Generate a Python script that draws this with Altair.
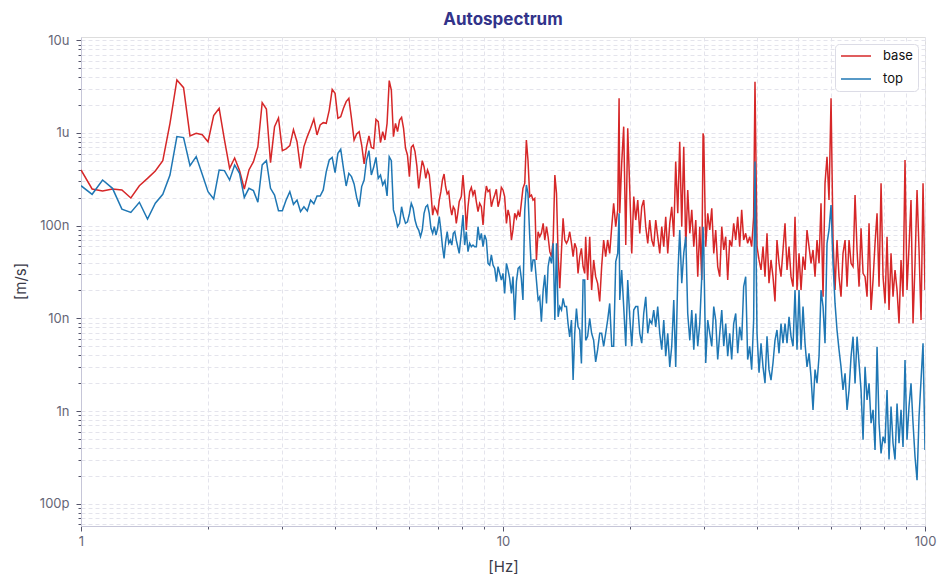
import altair as alt
import pandas as pd

# Autospectrum. Amplitudes in nm/s, frequencies in Hz.

# 1 - 3.6 Hz
freq_a = [1.0, 1.0625, 1.125, 1.1875, 1.25, 1.3125, 1.375, 1.4375, 1.5, 1.5625,
          1.625, 1.6875, 1.75, 1.8125, 1.875, 1.9375, 2.0, 2.0625, 2.125, 2.1875,
          2.25, 2.3125, 2.375, 2.4375, 2.5, 2.5625, 2.625, 2.6875, 2.75, 2.8125,
          2.875, 2.9375, 3.0, 3.0625, 3.125, 3.1875, 3.25, 3.3125, 3.375, 3.4375,
          3.5, 3.5625, 3.625]
base_a = [399, 249, 237, 249, 243, 199, 270, 324, 389, 503,
          1272, 3732, 3083, 929, 991, 959, 805, 1540, 1847, 841,
          416, 537, 393, 249, 399, 491, 713, 2124, 1815, 479,
          1171, 1452, 646, 673, 731, 1087, 805, 416, 713, 914,
          1123, 1416, 952]
top_a = [270, 218, 311, 253, 151, 139, 179, 118, 175, 218,
         352, 914, 891, 445, 556, 358, 233, 194, 399, 393,
         311, 452, 367, 202, 253, 239, 179, 452, 504, 253,
         214, 145, 145, 189, 233, 170, 189, 142, 160, 144,
         189, 172, 209]

# 3.7 - 7.9 Hz
freq_b = [3.6875, 3.75, 3.8125, 3.875, 3.9375, 4.0, 4.0625, 4.125, 4.1875, 4.25,
          4.3125, 4.375, 4.4375, 4.5, 4.5625, 4.625, 4.6875, 4.75, 4.8125, 4.875,
          4.9375, 5.0, 5.0625, 5.125, 5.1875, 5.25, 5.3125, 5.375, 5.4375, 5.5,
          5.5625, 5.625, 5.6875, 5.75, 5.8125, 5.875, 5.9375, 6.0, 6.0625, 6.125,
          6.1875, 6.25, 6.3125, 6.375, 6.4375, 6.5, 6.5625, 6.625, 6.6875, 6.75,
          6.8125, 6.875, 6.9375, 7.0, 7.0625, 7.125, 7.1875, 7.25, 7.3125, 7.375,
          7.4375, 7.5, 7.5625, 7.625, 7.6875, 7.75, 7.8125, 7.875]
base_b = [1219, 1292, 1271, 1768, 2954, 2677, 1439, 1500, 1845, 2178,
          2364, 1439, 840, 976, 1033, 742, 463, 712, 928, 700,
          683, 1404, 1326, 787, 1033, 840, 1271, 3668, 2909, 912,
          1271, 1033, 1380, 1476, 1123, 683, 579, 338, 700, 742,
          629, 441, 253, 367, 503, 433, 324, 399, 352, 227,
          130, 160, 148, 134, 189, 233, 311, 361, 263, 220,
          233, 160, 130, 160, 150, 106, 136, 182]
top_b = [209, 243, 383, 511, 546, 373, 603, 667, 416, 268,
         367, 338, 282, 202, 160, 264, 311, 511, 645, 352,
         426, 546, 324, 352, 275, 306, 209, 555, 503, 148,
         125, 97.5, 106, 160, 125, 106, 110, 134, 174, 154,
         115, 97.5, 89.8, 76.1, 89.8, 136, 160, 167, 136, 93.6,
         82.7, 97.5, 79.3, 93.6, 125, 89.8, 59.3, 44.4, 67.2, 86.2,
         64.5, 70.0, 61.8, 82.7, 86.2, 70.0, 59.3, 50.3]

# 8 - 15.6 Hz
freq_c = [7.965, 8.038, 8.112, 8.186, 8.262, 8.337, 8.414, 8.490, 8.568, 8.647,
          8.726, 8.806, 8.886, 8.968, 9.050, 9.132, 9.216, 9.300, 9.385, 9.471,
          9.558, 9.645, 9.733, 9.822, 9.911, 10.00, 10.09, 10.19, 10.28, 10.37,
          10.47, 10.56, 10.66, 10.76, 10.86, 10.96, 11.05, 11.15, 11.26, 11.36,
          11.46, 11.57, 11.68, 11.78, 11.89, 12.00, 12.11, 12.22, 12.33, 12.45,
          12.56, 12.68, 12.79, 12.91, 13.03, 13.15, 13.27, 13.39, 13.51, 13.63,
          13.76, 13.88, 14.01, 14.14, 14.26, 14.39, 14.53, 14.66, 14.79, 14.93,
          15.06, 15.20, 15.34, 15.48, 15.62]
base_c = [206, 352, 206, 90, 160, 233, 259, 214, 243, 181,
          142, 174, 160, 102, 189, 268, 233, 243, 160, 189,
          214, 247, 160, 189, 259, 243, 206, 106, 148, 125,
          70, 90, 136, 120, 142, 125, 174, 253, 286, 840,
          512, 206, 214, 189, 197, 42.6, 86, 76, 83, 106,
          70, 97.5, 76, 52.4, 46.3, 70, 352, 223, 46.3, 21.1,
          54.6, 120, 70, 64.5, 70, 86, 64.5, 46.3, 64.5, 56.9,
          30.6, 46.3, 56.9, 36.1, 30.6]
top_c = [82.7, 130, 61.8, 86.1, 52.4, 64.5, 59.3, 61.8, 59.3, 59.3,
         97.5, 70, 82.7, 59.3, 79.3, 70, 39.2, 37.6, 48.3, 37.6,
         34.6, 24.9, 36.1, 30.6, 25.9, 30.6, 18.6, 39.2, 33.2, 27.0,
         18.6, 28.2, 9.6, 24.9, 34.6, 36.1, 27.0, 15.8, 148, 275,
         223, 76.1, 31.9, 42.6, 42.6, 25.9, 15.8, 17.1, 9.2, 20.2,
         29.4, 14.5, 36.1, 46.3, 39.2, 64.5, 9.6, 64.5, 10.4, 13.4,
         12.3, 16.4, 13.4, 13.4, 8.8, 6.3, 9.6, 2.16, 6.9, 12.8,
         8.1, 7.5, 3.27, 25.9, 25.9]

# 15.7 - 40.4 Hz
freq_d = [15.70, 15.87, 16.05, 16.22, 16.40, 16.58, 16.76, 16.95, 17.13, 17.32,
          17.51, 17.70, 17.90, 18.10, 18.29, 18.50, 18.70, 18.84, 18.91, 19.11,
          19.32, 19.54, 19.75, 19.97, 20.19, 20.41, 20.63, 20.86, 21.09, 21.32,
          21.55, 21.79, 22.03, 22.27, 22.52, 22.76, 23.01, 23.26, 23.52, 23.78,
          24.04, 24.30, 24.57, 24.84, 25.11, 25.39, 25.66, 25.95, 26.23, 26.52,
          26.81, 27.11, 27.40, 27.71, 28.01, 28.32, 28.63, 28.94, 29.26, 29.58,
          29.79, 29.90, 30.23, 30.56, 30.90, 31.24, 31.58, 31.92, 32.27, 32.63,
          32.99, 33.35, 33.71, 34.08, 34.45, 34.83, 35.21, 35.60, 35.99, 36.38,
          36.78, 37.18, 37.59, 38.00, 38.42, 38.84, 39.26, 39.55, 39.99, 40.43]
base_d = [76.1, 26.0, 76.1, 20.2, 42.7, 28.2, 23.9, 15.2, 36.2, 70.1,
          46.4, 70.1, 50.3, 97.6, 174, 97.6, 148, 2363, 136, 471,
          1170, 61.9, 1123, 243, 50.3, 206, 115, 189, 82.7, 160,
          189, 97.6, 64.5, 115, 70.1, 59.4, 115, 76.1, 50.3, 97.6,
          59.4, 125, 50.3, 106, 160, 76.1, 491, 136, 806, 97.6,
          712, 59.4, 243, 82.7, 148, 59.4, 115, 28.2, 97.6, 26.0,
          992, 913, 59.4, 136, 89.9, 154, 50.3, 89.9, 36.2, 28.2,
          97.6, 54.7, 76.1, 26.0, 70.1, 59.4, 106, 70.1, 125, 59.4,
          148, 70.1, 82.7, 64.5, 76.1, 59.4, 125, 3579, 59.4, 42.7]
top_d = [5.8, 6.4, 10.0, 6.9, 5.8, 3.4, 4.6, 6.9, 6.9, 5.0,
         6.9, 9.6, 14.5, 5.0, 5.0, 40.9, 50.3, 136, 15.8, 33.3,
         13.4, 5.0, 26.0, 10.4, 5.0, 12.3, 13.4, 13.4, 6.9, 5.4,
         11.3, 17.1, 6.9, 9.6, 8.8, 12.3, 8.1, 13.4, 6.9, 4.6,
         9.6, 3.9, 6.9, 3.0, 5.0, 15.8, 3.0, 28.2, 89.9, 23.9,
         50.3, 76.1, 11.3, 5.8, 12.3, 4.6, 11.3, 5.0, 8.8, 28.2,
         97.6, 59.4, 3.3, 9.6, 6.9, 5.0, 13.4, 9.6, 3.6, 6.9,
         12.3, 5.0, 8.8, 3.9, 6.9, 3.6, 8.8, 11.3, 4.2, 8.1,
         5.8, 22.0, 28.2, 3.6, 5.0, 2.8, 9.6, 491, 6.9, 2.6]

# 40.9 - 64 Hz
freq_e = [40.87, 41.32, 41.77, 42.23, 42.69, 43.16, 43.63, 44.11, 44.59, 45.09,
          45.58, 46.08, 46.59, 47.10, 47.62, 48.14, 48.67, 49.20, 49.74, 50.29,
          50.84, 51.40, 51.96, 52.53, 53.11, 53.69, 54.28, 54.88, 55.48, 56.09,
          56.70, 57.33, 57.95, 58.59, 59.23, 59.89, 60.54, 61.21, 61.87, 62.55,
          63.24, 63.93]
base_e = [33.3, 59.4, 28.2, 82.7, 23.9, 42.7, 28.2, 15.2, 70.1, 39.3,
          28.2, 54.7, 106, 33.3, 59.4, 28.2, 22.0, 125, 20.2, 50.3,
          20.2, 46.4, 33.3, 89.9, 59.4, 39.3, 54.7, 28.2, 70.1, 39.3,
          174, 17.1, 286, 555, 189, 2364, 70.1, 20.2, 70.1, 28.2,
          17.1, 50.3]
top_e = [5.4, 3.0, 2.0, 6.4, 2.8, 2.16, 3.3, 5.8, 7.5, 4.2,
         8.8, 5.4, 8.8, 5.4, 10.4, 6.4, 5.0, 20.2, 4.6, 20.2,
         4.6, 13.4, 5.4, 3.0, 4.2, 2.35, 1.03, 2.8, 2.0, 3.9,
         20.2, 13.4, 5.4, 64.5, 89.9, 167, 39.3, 14.5, 7.5, 4.6,
         3.0, 1.69]

# 64.7 - 100 Hz
freq_f = [64.65, 65.36, 66.07, 66.80, 67.53, 68.27, 69.02, 69.78, 70.54, 71.32,
          72.10, 72.89, 73.69, 74.50, 75.32, 76.14, 76.98, 77.82, 78.68, 79.54,
          80.41, 81.29, 82.18, 83.08, 83.99, 84.91, 85.85, 86.79, 87.74, 88.70,
          89.67, 90.65, 91.65, 92.65, 93.68, 94.71, 95.75, 96.80, 97.86, 98.93,
          100.0]
base_f = [70.1, 22.0, 70.1, 39.3, 36.2, 214, 54.7, 22.0, 93.7, 30.6,
          28.2, 17.1, 106, 12.3, 26.0, 64.5, 136, 22.0, 286, 28.2,
          14.5, 76.1, 12.3, 50.3, 17.1, 33.3, 20.2, 8.8, 42.7, 17.1,
          511, 20.2, 59.4, 189, 8.8, 39.3, 243, 54.7, 9.6, 286,
          20.2]
top_f = [2.56, 1.03, 1.69, 3.87, 6.35, 1.99, 6.35, 3.27, 1.69, 0.49,
         3.01, 1.32, 1.99, 0.74, 1.03, 0.38, 4.95, 0.74, 0.35, 0.53,
         0.45, 1.69, 0.30, 1.12, 0.45, 0.30, 1.21, 0.45, 1.03, 0.41,
         3.56, 0.49, 1.12, 1.99, 0.74, 0.32, 0.18, 0.87, 2.16, 5.38,
         0.38]

series_names = ["base", "top"]
series_colors = ["#d62728", "#1f77b4"]

freq_hz = freq_a + freq_b + freq_c + freq_d + freq_e + freq_f
base_nm = base_a + base_b + base_c + base_d + base_e + base_f
top_nm = top_a + top_b + top_c + top_d + top_e + top_f

df = pd.DataFrame({
    "freq": freq_hz,
    "base": [v * 1e-9 for v in base_nm],
    "top": [v * 1e-9 for v in top_nm],
})
df_long = df.melt("freq", var_name="canal", value_name="amp")

# ticks at every 1..9 x decade, labels only on the decades
x_ticks = [m * 10 ** e for e in range(0, 2) for m in range(1, 10)] + [100]
y_ticks = [m * 10.0 ** e for e in range(-11, -4) for m in range(1, 10)]
y_ticks = [v for v in y_ticks if 5.8e-11 <= v <= 1.08e-5]

decada = "abs(log(datum.value)/LN10 - round(log(datum.value)/LN10)) < 0.001"

eixo = dict(
    grid=True,
    gridColor="#e4e4ec",
    gridDash=[4, 3],
    gridWidth=1,
    domainColor="#c6c6d8",
    tickColor="#55556a",
    tickSize={"condition": {"test": decada, "value": 5}, "value": 3},
    labelColor="#666677",
    labelFont="Inter",
    labelFontSize=13,
    labelOverlap=False,
    titleColor="#3a3a48",
    titleFont="Inter",
    titleFontSize=15,
    titleFontWeight="normal",
)

chart = alt.Chart(df_long).mark_line(strokeWidth=1.5, clip=True).encode(
    x=alt.X(
        "freq:Q",
        scale=alt.Scale(type="log", domain=[1, 100], nice=False),
        axis=alt.Axis(
            title="[Hz]",
            values=x_ticks,
            labelExpr=decada + " ? format(datum.value, '~g') : ''",
            labelFlush=False,
            labelPadding=4,
            titleX=422,
            titleY=40,
            titleBaseline="middle",
            **eixo,
        ),
    ),
    y=alt.Y(
        "amp:Q",
        scale=alt.Scale(type="log", domain=[5.76e-11, 1.085e-5], nice=False),
        axis=alt.Axis(
            title="[m/s]",
            values=y_ticks,
            labelExpr=decada + " ? replace(format(datum.value, '~s'), 'µ', 'u') : ''",
            labelPadding=7,
            titleX=-61,
            titleY=244,
            titleAngle=270,
            titleAlign="center",
            titleBaseline="middle",
            **eixo,
        ),
    ),
    color=alt.Color(
        "canal:N",
        scale=alt.Scale(domain=series_names, range=series_colors),
        legend=alt.Legend(
            title=None,
            orient="top-right",
            offset=7,
            symbolType="stroke",
            symbolSize=900,
            symbolStrokeWidth=1.5,
            clipHeight=14,
            labelFont="Inter",
            labelFontSize=13,
            labelColor="#111111",
            labelOffset=11,
            fillColor="white",
            strokeColor="#dcdce6",
            cornerRadius=4,
            padding=5,
            rowPadding=9,
        ),
    ),
).properties(
    width=844,
    height=489,
    title=alt.TitleParams(
        "Autospectrum",
        font="Inter",
        fontSize=17,
        fontWeight="bold",
        color="#32338a",
        anchor="middle",
        frame="group",
        offset=5,
    ),
    autosize=alt.AutoSizeParams(type="none"),
    padding={"left": 73, "top": 29, "right": 16, "bottom": 60},
).configure_view(
    stroke="#c6c6d8",
    strokeWidth=1,
).configure(background="white")

chart.save("out.html", embed_options={"renderer": "svg", "actions": False})
